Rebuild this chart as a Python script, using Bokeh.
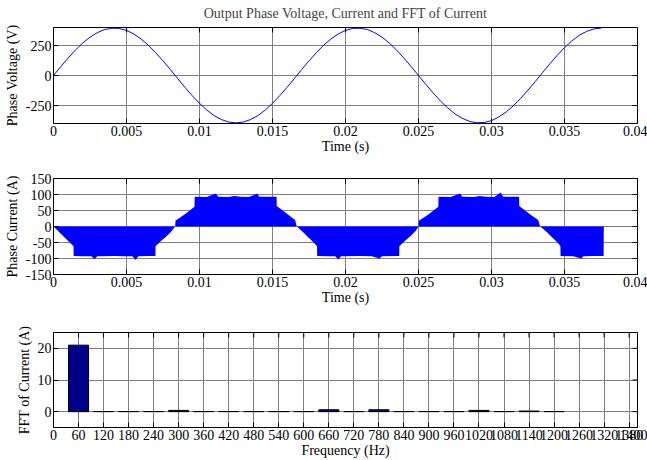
import math
from bokeh.plotting import figure
from bokeh.layouts import column
from bokeh.models import FixedTicker, Range1d, CustomJSTickFormatter
from bokeh.embed import file_html
from bokeh.resources import INLINE

# ---------------- data ----------------
# Phase voltage samples (V), every 0.0005 s from 0 to 0.0375 s
volt_step = 0.0005
phase_voltage = [0, 74, 145, 212, 270, 320, 357, 383, 394, 392, 376, 346, 304, 252, 190, 122, 50,
                 -25, -98, -168, -232, -288, -334, -367, -388, -395, -388, -367, -334, -288, -232,
                 -168, -98, -25, 50, 122, 190, 252, 304, 346, 376, 392, 394, 383, 357, 320, 270,
                 212, 145, 74, 0, -74, -145, -212, -270, -320, -357, -383, -394, -392, -376, -346,
                 -304, -252, -190, -122, -50, 25, 98, 168, 232, 288, 334, 367, 388, 395]
volt_time = [round(i * volt_step, 5) for i in range(len(phase_voltage))]

# Envelope of the PWM phase current (A)
cur_time = [0, 0.0004, 0.0008, 0.0012, 0.00137, 0.00138, 0.0020, 0.0026, 0.0028, 0.0030, 0.0042,
            0.0048, 0.0054, 0.00563, 0.0058, 0.0066, 0.00698, 0.00699, 0.0074, 0.0078, 0.0081, 0.00833,
            0.00834, 0.00835, 0.0088, 0.0092, 0.00966, 0.00967, 0.0105, 0.0111, 0.0113, 0.0120, 0.0124,
            0.0128, 0.0134, 0.01395, 0.0141, 0.01528, 0.01529, 0.0157, 0.0161, 0.01655, 0.01666,
            0.01667, 0.0171, 0.0175, 0.0179, 0.01805, 0.01806, 0.0188, 0.0193, 0.0195, 0.0197, 0.0210,
            0.0218, 0.02233, 0.0225, 0.02368, 0.02369, 0.0241, 0.0245, 0.0248, 0.02500,
            0.02501, 0.02502, 0.0255, 0.0259, 0.02636, 0.02637, 0.0272, 0.02784, 0.0280, 0.0288, 0.0292,
            0.0296, 0.0302, 0.03062, 0.0308, 0.03189, 0.0319, 0.0323, 0.0327, 0.0332, 0.03333,
            0.03334, 0.0338, 0.0342, 0.0346, 0.03472, 0.03473, 0.0356, 0.03614, 0.0363, 0.0370,
            0.03768, 0.03769]
phase_current = [0, -18, -36, -54, -62, -92, -93, -93, -102, -93, -92,
                 -93, -93, -105, -93, -92, -92, -62, -44, -28, -14, 0,
                 0, 18, 32, 45, 62, 93, 92, 103, 93, 92, 95,
                 93, 92, 103, 93, 93, 64, 50, 36, 20, 0,
                 0, -18, -36, -54, -62, -92, -93, -93, -103, -93, -92,
                 -93, -100, -93, -92, -62, -44, -28, -14, 0,
                 0, 18, 32, 45, 62, 93, 92, 103, 93, 92, 95,
                 93, 92, 106, 93, 93, 64, 50, 36, 20, 0,
                 0, -18, -36, -54, -62, -92, -93, -100, -93, -92,
                 -92, 0]

# FFT of current
fft_freq = [60, 120, 180, 240, 300, 360, 420, 480, 540, 600, 660, 720, 780, 840, 900, 960,
            1020, 1080, 1140, 1200]
fft_mag = [21, 0.05, 0.05, 0.05, 0.4, 0.05, 0.05, 0.05, 0.05, 0.05, 0.6, 0.05, 0.6, 0.05, 0.05,
           0.05, 0.4, 0.05, 0.2, 0.05]

# ticks
time_ticks = [0, 0.005, 0.01, 0.015, 0.02, 0.025, 0.03, 0.035, 0.04]
time_labels = ["0", "0.005", "0.01", "0.015", "0.02", "0.025", "0.03", "0.035", "0.04"]
volt_ticks = [-250, 0, 250]
volt_labels = ["-250", "0", "250"]
cur_ticks = [-150, -100, -50, 0, 50, 100, 150]
cur_labels = ["-150", "-100", "-50", "0", "50", "100", "150"]
freq_ticks = [0, 60, 120, 180, 240, 300, 360, 420, 480, 540, 600, 660, 720, 780, 840, 900, 960,
              1020, 1080, 1140, 1200, 1260, 1320, 1380, 1400]
freq_labels = [str(f) for f in freq_ticks]
fft_ticks = [0, 10, 20]
fft_labels = ["0", "10", "20"]

FONT = "Liberation Serif"
W = 647
GRID = "#7f7f7f"
TICK_FS = "14px"


def formatter(tick_values, tick_texts):
    return CustomJSTickFormatter(
        args=dict(tvals=tick_values, ttexts=tick_texts),
        code="""
        for (let i = 0; i < tvals.length; i++) {
            if (Math.abs(tvals[i] - tick) < 1e-9) { return ttexts[i]; }
        }
        return String(tick);
        """)


def make_fig(height, top, bottom, xr, yr, xt, xl, yt, yl, xlabel, ylabel):
    p = figure(width=W, height=height, output_backend="svg", toolbar_location=None,
               x_range=Range1d(*xr), y_range=Range1d(*yr),
               min_border_left=53, min_border_right=10,
               min_border_top=top, min_border_bottom=bottom)
    p.outline_line_color = "black"
    p.outline_line_width = 1
    p.background_fill_color = "white"
    p.border_fill_color = "white"

    xa = p.below[0]
    ya = p.left[0]
    for ax, ticks, labels in ((xa, xt, xl), (ya, yt, yl)):
        ax.ticker = FixedTicker(ticks=ticks)
        ax.formatter = formatter(ticks, labels)
        ax.major_tick_in = 5
        ax.major_tick_out = 0
        ax.minor_tick_in = 0
        ax.minor_tick_out = 0
        ax.axis_line_color = None
        ax.major_tick_line_color = "black"
        ax.major_label_text_font = FONT
        ax.major_label_text_font_size = TICK_FS
        ax.major_label_text_font_style = "normal"
        ax.major_label_text_color = "black"
        ax.axis_label_text_font = FONT
        ax.axis_label_text_font_size = "14px"
        ax.axis_label_text_font_style = "normal"
        ax.axis_label_text_color = "black"
        ax.major_label_standoff = 2
    xa.axis_label = xlabel
    xa.axis_label_standoff = 0
    ya.axis_label = ylabel
    ya.axis_label_standoff = 3

    p.xgrid[0].ticker = FixedTicker(ticks=xt)
    p.ygrid[0].ticker = FixedTicker(ticks=yt)
    for g in (p.xgrid[0], p.ygrid[0]):
        g.grid_line_color = GRID
        g.grid_line_width = 1

    # inward tick marks on the top and right edges of the frame
    p.scatter(x=xt, y=[yr[1]] * len(xt), marker="dash", angle=math.pi / 2, size=10,
              line_color="black", line_width=1)
    p.scatter(x=[xr[1]] * len(yt), y=yt, marker="dash", size=10,
              line_color="black", line_width=1)
    return p


p1 = make_fig(158, 27, 35, (0, 0.04), (-400, 400), time_ticks, time_labels,
              volt_ticks, volt_labels, "Time (s)", "Phase Voltage (V)")
p1.title.text = "Output Phase Voltage, Current and FFT of Current"
p1.title.align = "center"
p1.title.vertical_align = "top"
p1.title.text_font = FONT
p1.title.text_font_size = "14px"
p1.title.text_font_style = "normal"
p1.title.standoff = 10
p1.line(volt_time, phase_voltage, line_color="#0000ff", line_width=1)

p2 = make_fig(154, 20, 38, (0, 0.04), (-150, 150), time_ticks, time_labels,
              cur_ticks, cur_labels, "Time (s)", "Phase Current (A)")
p2.varea(x=cur_time, y1=0, y2=phase_current, fill_color="#0000ff")

p3 = make_fig(148, 20, 33, (0, 1400), (-5, 25), freq_ticks, freq_labels,
              fft_ticks, fft_labels, "Frequency (Hz)", "FFT of Current (A)")
p3.vbar(x=fft_freq, top=fft_mag, bottom=0, width=48, fill_color="#00008b",
        line_color="black", line_width=1)

layout = column(p1, p2, p3, spacing=0)
open("out.html", "w").write(file_html(layout, INLINE))
